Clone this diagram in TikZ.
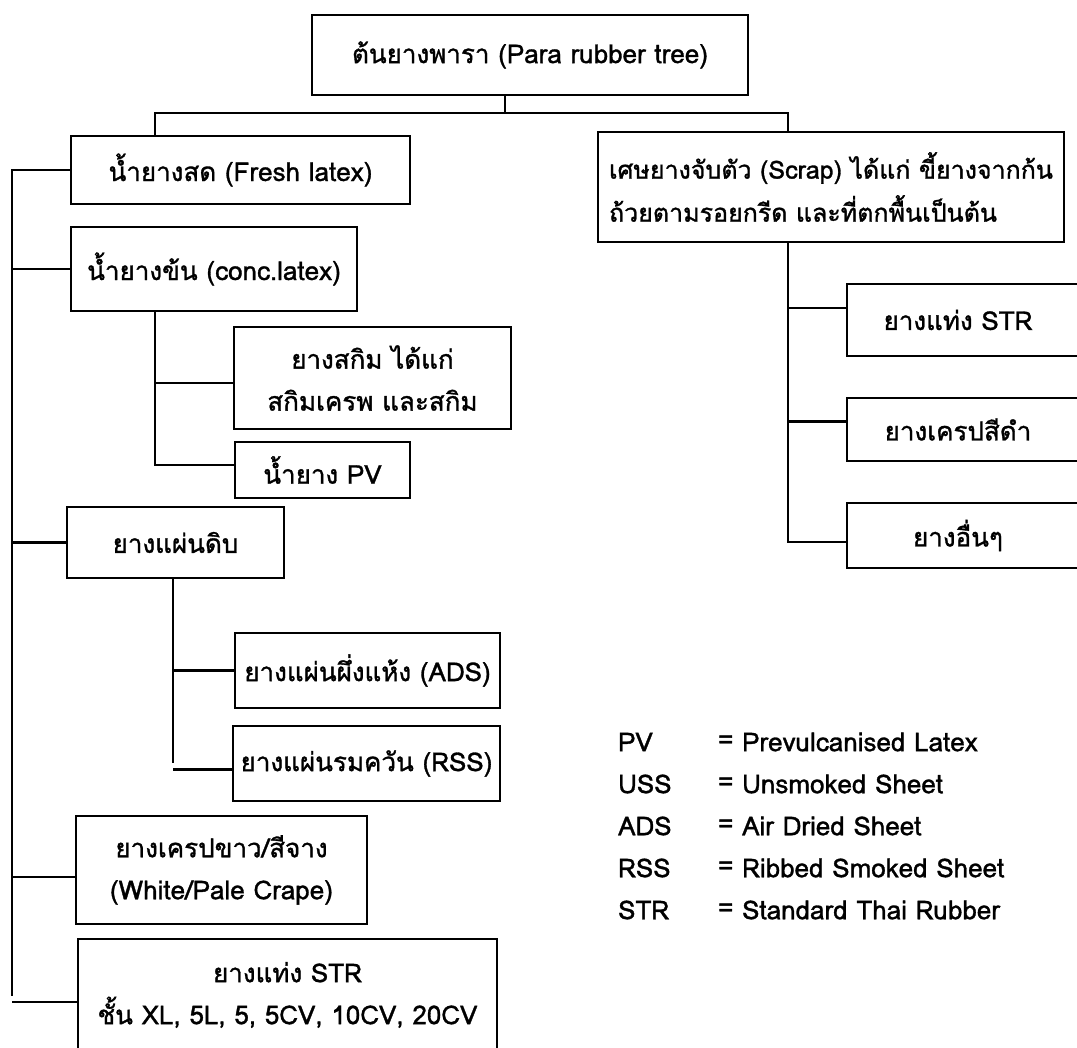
\documentclass[tikz,border=0pt]{standalone}
\usepackage{fontspec}
\setmainfont{Loma}[Script=Thai,FakeBold=1.2]

\tikzset{every picture/.style={line width=2.3pt}}
\tikzset{
	box/.style={draw, line width=2.6pt, inner sep=0pt, align=center},
	legtext/.style={anchor=west, inner sep=0pt}
}

\begin{document}
\begin{tikzpicture}[x=1pt,y=1pt,yscale=-1,xscale=1,font=\fontsize{26}{42}\selectfont]
	\useasboundingbox (0,0) rectangle (1077,1048);

	% Top box
	\node[box, minimum width=436, minimum height=80] (tree) at (530,55) {ต้นยางพารา (Para rubber tree)};

	% Left column
	\node[box, minimum width=339, minimum height=68] (fresh) at (240.5,170) {น้ำยางสด (Fresh latex)};
	\node[box, minimum width=286, minimum height=84] (conc) at (214,269) {น้ำยางข้น (conc.latex)};
	\node[box, minimum width=277, minimum height=102] (skim) at (372.5,378) {ยางสกิม ได้แก่\\สกิมเครพ และสกิม};
	\node[box, minimum width=175, minimum height=56] (pv) at (322.5,470) {น้ำยาง PV};
	\node[box, minimum width=217, minimum height=71] (raw) at (175.5,542.5) {ยางแผ่นดิบ};
	\node[box, minimum width=265, minimum height=75] (ads) at (367.5,670.5) {ยางแผ่นผึ่งแห้ง (ADS)};
	\node[box, minimum width=267, minimum height=75] (rss) at (366.5,763.5) {ยางแผ่นรมควัน (RSS)};
	\node[box, minimum width=291, minimum height=108] (white) at (221.5,870) {ยางเครปขาว/สีจาง\\(White/Pale Crape)};
	\node[box, minimum width=419, minimum height=112] (strL) at (287.5,995) {ยางแท่ง STR\\ชั้น XL, 5L, 5, 5CV, 10CV, 20CV};

	% Right column
	\node[box, align=left, font=\fontsize{25}{43}\selectfont, minimum width=466, minimum height=110] (scrap) at (831,187) {เศษยางจับตัว (Scrap) ได้แก่ ขี้ยางจากก้น\\ถ้วยตามรอยกรีด และที่ตกพื้นเป็นต้น};
	\node[box, minimum width=251, minimum height=72] (strR) at (972.5,320) {ยางแท่ง STR\hspace*{29pt}};
	\node[box, minimum width=251, minimum height=63] (crepeR) at (972.5,429.5) {ยางเครปสีดำ\hspace*{29pt}};
	\node[box, minimum width=251, minimum height=65] (otherR) at (972.5,535.5) {ยางอื่นๆ\hspace*{29pt}};

	% Connectors
	\coordinate (busL) at (155,113);
	\coordinate (busM) at (505,113);
	\coordinate (busR) at (788,113);
	\draw (busM |- tree.south) -- (busM);
	\draw (busL |- fresh.north) -- (busL) -- (busR) -- (busR |- scrap.north);

	\coordinate (trunk) at (12,996);
	\draw (fresh.west) -- (fresh.west -| trunk) -- (trunk);
	\draw (conc.west) -- (conc.west -| trunk);
	\draw (raw.west) -- (raw.west -| trunk);
	\draw ([yshift=7pt]white.west) -- ([yshift=7pt]white.west -| trunk);
	\draw ([yshift=7pt]strL.west) -- ([yshift=7pt]strL.west -| trunk);

	\coordinate (concBus) at (155,465);
	\draw (concBus |- conc.south) -- (concBus) -- (concBus -| pv.west);
	\draw ([yshift=5pt]skim.west -| concBus) -- ([yshift=5pt]skim.west);

	\coordinate (rawBus) at (173,763);
	\draw (rawBus |- raw.south) -- (rawBus);
	\draw (ads.west -| rawBus) -- (ads.west);
	\draw ([yshift=6pt]rss.west -| rawBus) -- ([yshift=6pt]rss.west);

	\coordinate (scrapBus) at (788,542);
	\draw (scrapBus |- scrap.south) -- (scrapBus) -- (scrapBus -| otherR.west);
	\draw ([yshift=-12pt]strR.west -| scrapBus) -- ([yshift=-12pt]strR.west);
	\draw ([yshift=-8pt]crepeR.west -| scrapBus) -- ([yshift=-8pt]crepeR.west);

	% Legend
	\foreach \abbr/\full [count=\i from 0] in {PV/Prevulcanised Latex, USS/Unsmoked Sheet, ADS/Air Dried Sheet, RSS/Ribbed Smoked Sheet, STR/Standard Thai Rubber}{
		\node[legtext] (ab\abbr) at (617,742+42*\i) {\abbr};
		\node[legtext] (eq\abbr) at (717,742+42*\i) {=};
		\node[legtext] (df\abbr) at (741,742+42*\i) {\full};
	}

\end{tikzpicture}
\end{document}
